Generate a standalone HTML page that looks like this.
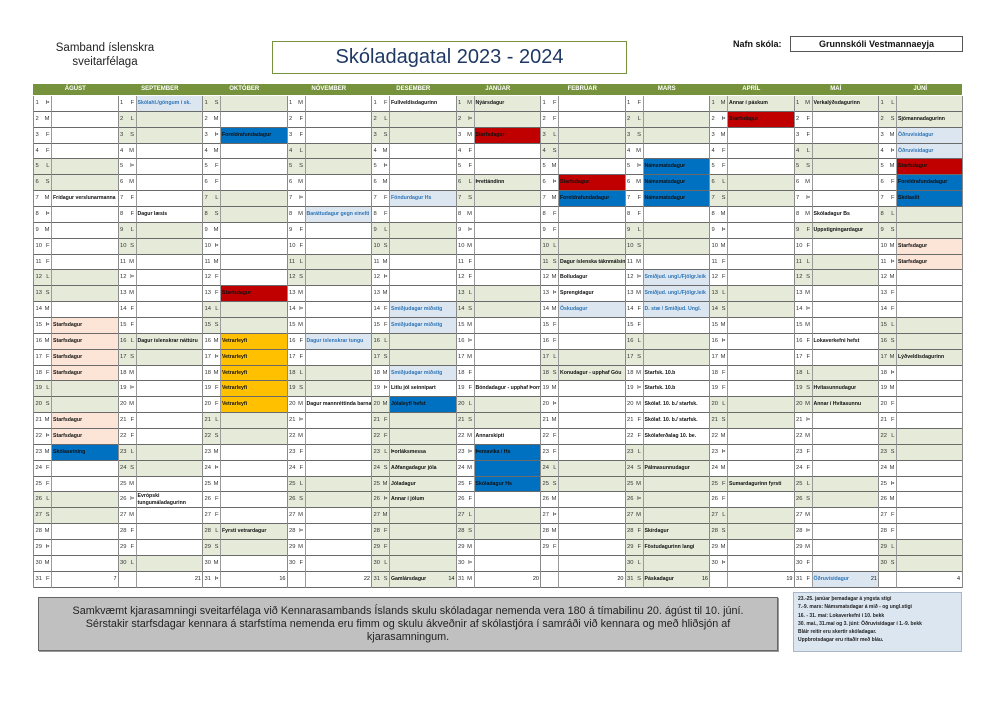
<!DOCTYPE html>
<html><head><meta charset="utf-8">
<style>
body{margin:0;width:992px;height:702px;background:#fff;position:relative;overflow:hidden;font-family:"Liberation Sans",sans-serif}
.a{position:absolute}
.hdr{position:absolute;left:33px;top:84px;width:929px;height:11px;background:#76923c}
.hdr span{position:absolute;top:0;width:84.5px;text-align:center;color:#fff;font:bold 6px/11px "Liberation Sans",sans-serif}
.m{position:absolute;top:96px;width:84.5px;display:grid;grid-template-columns:18px 66.5px;grid-auto-rows:15.87px;border-left:1.5px solid #8a8a8a;box-sizing:border-box}
.m p{margin:0;border-bottom:1px solid #6a6a6a;font-family:"Liberation Sans",sans-serif;line-height:15px;position:relative;overflow:hidden;white-space:nowrap;box-sizing:border-box}
.m p:nth-child(odd){padding-left:1.5px;border-right:1px solid #9a9a9a;color:#333;font-size:5.8px}
.m p:nth-child(even){padding-left:1px;font-weight:bold;font-size:5.2px;color:#111}
.m u{text-decoration:none;position:absolute;right:1.5px;top:0}
.m i{font-style:normal;font-weight:normal;position:absolute;right:2px;top:0;font-size:5.5px}
.m .g{background:#e5ead9}
.m .b{background:#0070c0}
.m .r{background:#c00000}
.m .o{background:#ffc000}
.m .l{background:#dce6f1;color:#2e75b6!important}
.m .k{background:#fce4d6}
</style></head><body>
<div class="a" style="left:40px;top:41px;width:130px;text-align:center;font-size:11.5px;line-height:14px;color:#222">Samband íslenskra<br>sveitarfélaga</div>
<div class="a" style="left:272px;top:41px;width:353px;height:31px;border:1.5px solid #76923c;text-align:center;font-size:20px;line-height:31px;color:#1f3864">Skóladagatal 2023 - 2024</div>
<div class="a" style="left:733px;top:39px;font-size:9px;font-weight:bold;color:#111">Nafn skóla:</div>
<div class="a" style="left:790px;top:36px;width:171px;height:14px;border:1px solid #555;text-align:center;font-size:9px;line-height:14px;font-weight:bold;color:#111">Grunnskóli Vestmannaeyja</div>
<div class="hdr">
<span style="left:0">ÁGÚST</span><span style="left:84.5px">SEPTEMBER</span><span style="left:169px">OKTÓBER</span><span style="left:253.5px">NÓVEMBER</span><span style="left:338px">DESEMBER</span><span style="left:422.5px">JANÚAR</span><span style="left:507px">FEBRÚAR</span><span style="left:591.5px">MARS</span><span style="left:676px">APRÍL</span><span style="left:760.5px">MAÍ</span><span style="left:845px">JÚNÍ</span>
</div>

<!-- AUG -->
<div class="m" style="left:33px">
<p>1<u>Þ</u></p><p></p>
<p>2<u>M</u></p><p></p>
<p>3<u>F</u></p><p></p>
<p>4<u>F</u></p><p></p>
<p class=g>5<u>L</u></p><p class=g></p>
<p class=g>6<u>S</u></p><p class=g></p>
<p>7<u>M</u></p><p>Frídagur verslunarmanna</p>
<p>8<u>Þ</u></p><p></p>
<p>9<u>M</u></p><p></p>
<p>10<u>F</u></p><p></p>
<p>11<u>F</u></p><p></p>
<p class=g>12<u>L</u></p><p class=g></p>
<p class=g>13<u>S</u></p><p class=g></p>
<p>14<u>M</u></p><p></p>
<p>15<u>Þ</u></p><p class=k>Starfsdagur</p>
<p>16<u>M</u></p><p class=k>Starfsdagur</p>
<p>17<u>F</u></p><p class=k>Starfsdagur</p>
<p>18<u>F</u></p><p class=k>Starfsdagur</p>
<p class=g>19<u>L</u></p><p class=g></p>
<p class=g>20<u>S</u></p><p class=g></p>
<p>21<u>M</u></p><p class=k>Starfsdagur</p>
<p>22<u>Þ</u></p><p class=k>Starfsdagur</p>
<p>23<u>M</u></p><p class=b>Skólasetning</p>
<p>24<u>F</u></p><p></p>
<p>25<u>F</u></p><p></p>
<p class=g>26<u>L</u></p><p class=g></p>
<p class=g>27<u>S</u></p><p class=g></p>
<p>28<u>M</u></p><p></p>
<p>29<u>Þ</u></p><p></p>
<p>30<u>M</u></p><p></p>
<p>31<u>F</u></p><p><i>7</i></p>
</div>

<!-- SEP -->
<div class="m" style="left:117.5px">
<p>1<u>F</u></p><p class=l>Skólahl./göngum í sk.</p>
<p class=g>2<u>L</u></p><p class=g></p>
<p class=g>3<u>S</u></p><p class=g></p>
<p>4<u>M</u></p><p></p>
<p>5<u>Þ</u></p><p></p>
<p>6<u>M</u></p><p></p>
<p>7<u>F</u></p><p></p>
<p>8<u>F</u></p><p>Dagur læsis</p>
<p class=g>9<u>L</u></p><p class=g></p>
<p class=g>10<u>S</u></p><p class=g></p>
<p>11<u>M</u></p><p></p>
<p>12<u>Þ</u></p><p></p>
<p>13<u>M</u></p><p></p>
<p>14<u>F</u></p><p></p>
<p>15<u>F</u></p><p></p>
<p class=g>16<u>L</u></p><p class=g>Dagur íslenskrar náttúru</p>
<p class=g>17<u>S</u></p><p class=g></p>
<p>18<u>M</u></p><p></p>
<p>19<u>Þ</u></p><p></p>
<p>20<u>M</u></p><p></p>
<p>21<u>F</u></p><p></p>
<p>22<u>F</u></p><p></p>
<p class=g>23<u>L</u></p><p class=g></p>
<p class=g>24<u>S</u></p><p class=g></p>
<p>25<u>M</u></p><p></p>
<p>26<u>Þ</u></p><p style="line-height:6.5px;padding-top:1px">Evrópski<br>tungumáladagurinn</p>
<p>27<u>M</u></p><p></p>
<p>28<u>F</u></p><p></p>
<p>29<u>F</u></p><p></p>
<p class=g>30<u>L</u></p><p class=g></p>
<p></p><p><i>21</i></p>
</div>

<!-- OCT -->
<div class="m" style="left:202px">
<p class=g>1<u>S</u></p><p class=g></p>
<p>2<u>M</u></p><p></p>
<p>3<u>Þ</u></p><p class=b>Foreldrafundadagur</p>
<p>4<u>M</u></p><p></p>
<p>5<u>F</u></p><p></p>
<p>6<u>F</u></p><p></p>
<p class=g>7<u>L</u></p><p class=g></p>
<p class=g>8<u>S</u></p><p class=g></p>
<p>9<u>M</u></p><p></p>
<p>10<u>Þ</u></p><p></p>
<p>11<u>M</u></p><p></p>
<p>12<u>F</u></p><p></p>
<p>13<u>F</u></p><p class=r>Starfsdagur</p>
<p class=g>14<u>L</u></p><p class=g></p>
<p class=g>15<u>S</u></p><p class=g></p>
<p>16<u>M</u></p><p class=o>Vetrarleyfi</p>
<p>17<u>Þ</u></p><p class=o>Vetrarleyfi</p>
<p>18<u>M</u></p><p class=o>Vetrarleyfi</p>
<p>19<u>F</u></p><p class=o>Vetrarleyfi</p>
<p>20<u>F</u></p><p class=o>Vetrarleyfi</p>
<p class=g>21<u>L</u></p><p class=g></p>
<p class=g>22<u>S</u></p><p class=g></p>
<p>23<u>M</u></p><p></p>
<p>24<u>Þ</u></p><p></p>
<p>25<u>M</u></p><p></p>
<p>26<u>F</u></p><p></p>
<p>27<u>F</u></p><p></p>
<p class=g>28<u>L</u></p><p class=g>Fyrsti vetrardagur</p>
<p class=g>29<u>S</u></p><p class=g></p>
<p>30<u>M</u></p><p></p>
<p>31<u>Þ</u></p><p><i>16</i></p>
</div>

<!-- NOV -->
<div class="m" style="left:286.5px">
<p>1<u>M</u></p><p></p>
<p>2<u>F</u></p><p></p>
<p>3<u>F</u></p><p></p>
<p class=g>4<u>L</u></p><p class=g></p>
<p class=g>5<u>S</u></p><p class=g></p>
<p>6<u>M</u></p><p></p>
<p>7<u>Þ</u></p><p></p>
<p>8<u>M</u></p><p class=l>Baráttudagur gegn einelti</p>
<p>9<u>F</u></p><p></p>
<p>10<u>F</u></p><p></p>
<p class=g>11<u>L</u></p><p class=g></p>
<p class=g>12<u>S</u></p><p class=g></p>
<p>13<u>M</u></p><p></p>
<p>14<u>Þ</u></p><p></p>
<p>15<u>M</u></p><p></p>
<p>16<u>F</u></p><p class=l>Dagur íslenskrar tungu</p>
<p>17<u>F</u></p><p></p>
<p class=g>18<u>L</u></p><p class=g></p>
<p class=g>19<u>S</u></p><p class=g></p>
<p>20<u>M</u></p><p>Dagur mannréttinda barna</p>
<p>21<u>Þ</u></p><p></p>
<p>22<u>M</u></p><p></p>
<p>23<u>F</u></p><p></p>
<p>24<u>F</u></p><p></p>
<p class=g>25<u>L</u></p><p class=g></p>
<p class=g>26<u>S</u></p><p class=g></p>
<p>27<u>M</u></p><p></p>
<p>28<u>Þ</u></p><p></p>
<p>29<u>M</u></p><p></p>
<p>30<u>F</u></p><p></p>
<p></p><p><i>22</i></p>
</div>

<!-- DEC -->
<div class="m" style="left:371px">
<p>1<u>F</u></p><p>Fullveldisdagurinn</p>
<p class=g>2<u>L</u></p><p class=g></p>
<p class=g>3<u>S</u></p><p class=g></p>
<p>4<u>M</u></p><p></p>
<p>5<u>Þ</u></p><p></p>
<p>6<u>M</u></p><p></p>
<p>7<u>F</u></p><p class=l>Föndurdagur Hs</p>
<p>8<u>F</u></p><p></p>
<p class=g>9<u>L</u></p><p class=g></p>
<p class=g>10<u>S</u></p><p class=g></p>
<p>11<u>M</u></p><p></p>
<p>12<u>Þ</u></p><p></p>
<p>13<u>M</u></p><p></p>
<p>14<u>F</u></p><p class=l>Smiðjudagar miðstig</p>
<p>15<u>F</u></p><p class=l>Smiðjudagar miðstig</p>
<p class=g>16<u>L</u></p><p class=g></p>
<p class=g>17<u>S</u></p><p class=g></p>
<p>18<u>M</u></p><p class=l>Smiðjudagar miðstig</p>
<p>19<u>Þ</u></p><p>Litlu jól seinnipart</p>
<p class=g>20<u>M</u></p><p class=b>Jólaleyfi hefst</p>
<p class=g>21<u>F</u></p><p class=g></p>
<p class=g>22<u>F</u></p><p class=g></p>
<p class=g>23<u>L</u></p><p class=g>Þorláksmessa</p>
<p class=g>24<u>S</u></p><p class=g>Aðfangadagur jóla</p>
<p class=g>25<u>M</u></p><p class=g>Jóladagur</p>
<p class=g>26<u>Þ</u></p><p class=g>Annar í jólum</p>
<p class=g>27<u>M</u></p><p class=g></p>
<p class=g>28<u>F</u></p><p class=g></p>
<p class=g>29<u>F</u></p><p class=g></p>
<p class=g>30<u>L</u></p><p class=g></p>
<p class=g>31<u>S</u></p><p class=g>Gamlársdagur<i>14</i></p>
</div>

<!-- JAN -->
<div class="m" style="left:455.5px">
<p class=g>1<u>M</u></p><p class=g>Nýársdagur</p>
<p class=g>2<u>Þ</u></p><p class=g></p>
<p>3<u>M</u></p><p class=r>Starfsdagur</p>
<p>4<u>F</u></p><p></p>
<p>5<u>F</u></p><p></p>
<p class=g>6<u>L</u></p><p class=g>Þrettándinn</p>
<p class=g>7<u>S</u></p><p class=g></p>
<p>8<u>M</u></p><p></p>
<p>9<u>Þ</u></p><p></p>
<p>10<u>M</u></p><p></p>
<p>11<u>F</u></p><p></p>
<p>12<u>F</u></p><p></p>
<p class=g>13<u>L</u></p><p class=g></p>
<p class=g>14<u>S</u></p><p class=g></p>
<p>15<u>M</u></p><p></p>
<p>16<u>Þ</u></p><p></p>
<p>17<u>M</u></p><p></p>
<p>18<u>F</u></p><p></p>
<p>19<u>F</u></p><p>Bóndadagur - upphaf Þorra</p>
<p class=g>20<u>L</u></p><p class=g></p>
<p class=g>21<u>S</u></p><p class=g></p>
<p>22<u>M</u></p><p>Annarskipti</p>
<p>23<u>Þ</u></p><p class=b>Þemavika í Hs</p>
<p>24<u>M</u></p><p class=b></p>
<p>25<u>F</u></p><p class=b>Skóladagur Hs</p>
<p>26<u>F</u></p><p></p>
<p class=g>27<u>L</u></p><p class=g></p>
<p class=g>28<u>S</u></p><p class=g></p>
<p>29<u>M</u></p><p></p>
<p>30<u>Þ</u></p><p></p>
<p>31<u>M</u></p><p><i>20</i></p>
</div>

<!-- FEB -->
<div class="m" style="left:540px">
<p>1<u>F</u></p><p></p>
<p>2<u>F</u></p><p></p>
<p class=g>3<u>L</u></p><p class=g></p>
<p class=g>4<u>S</u></p><p class=g></p>
<p>5<u>M</u></p><p></p>
<p>6<u>Þ</u></p><p class=r>Starfsdagur</p>
<p>7<u>M</u></p><p class=b>Foreldrafundadagur</p>
<p>8<u>F</u></p><p></p>
<p>9<u>F</u></p><p></p>
<p class=g>10<u>L</u></p><p class=g></p>
<p class=g>11<u>S</u></p><p class=g>Dagur íslenska táknmálsins</p>
<p>12<u>M</u></p><p>Bolludagur</p>
<p>13<u>Þ</u></p><p>Sprengidagur</p>
<p>14<u>M</u></p><p class=l>Öskudagur</p>
<p>15<u>F</u></p><p></p>
<p>16<u>F</u></p><p></p>
<p class=g>17<u>L</u></p><p class=g></p>
<p class=g>18<u>S</u></p><p class=g>Konudagur - upphaf Góu</p>
<p>19<u>M</u></p><p></p>
<p>20<u>Þ</u></p><p></p>
<p>21<u>M</u></p><p></p>
<p>22<u>F</u></p><p></p>
<p>23<u>F</u></p><p></p>
<p class=g>24<u>L</u></p><p class=g></p>
<p class=g>25<u>S</u></p><p class=g></p>
<p>26<u>M</u></p><p></p>
<p>27<u>Þ</u></p><p></p>
<p>28<u>M</u></p><p></p>
<p>29<u>F</u></p><p></p>
<p></p><p></p>
<p></p><p><i>20</i></p>
</div>

<!-- MAR -->
<div class="m" style="left:624.5px">
<p>1<u>F</u></p><p></p>
<p class=g>2<u>L</u></p><p class=g></p>
<p class=g>3<u>S</u></p><p class=g></p>
<p>4<u>M</u></p><p></p>
<p>5<u>Þ</u></p><p class=b>Námsmatsdagur</p>
<p>6<u>M</u></p><p class=b>Námsmatsdagur</p>
<p>7<u>F</u></p><p class=b>Námsmatsdagur</p>
<p>8<u>F</u></p><p></p>
<p class=g>9<u>L</u></p><p class=g></p>
<p class=g>10<u>S</u></p><p class=g></p>
<p>11<u>M</u></p><p></p>
<p>12<u>Þ</u></p><p class=l>Smiðjud. ungl./Fjölgr.leik</p>
<p>13<u>M</u></p><p class=l>Smiðjud. ungl./Fjölgr.leik</p>
<p>14<u>F</u></p><p class=l>D. stæ / Smiðjud. Ungl.</p>
<p>15<u>F</u></p><p></p>
<p class=g>16<u>L</u></p><p class=g></p>
<p class=g>17<u>S</u></p><p class=g></p>
<p>18<u>M</u></p><p>Starfsk. 10.b</p>
<p>19<u>Þ</u></p><p>Starfsk. 10.b</p>
<p>20<u>M</u></p><p>Skólaf. 10. b./ starfsk.</p>
<p>21<u>F</u></p><p>Skólaf. 10. b./ starfsk.</p>
<p>22<u>F</u></p><p>Skólaferðalag 10. be.</p>
<p class=g>23<u>L</u></p><p class=g></p>
<p class=g>24<u>S</u></p><p class=g>Pálmasunnudagur</p>
<p class=g>25<u>M</u></p><p class=g></p>
<p class=g>26<u>Þ</u></p><p class=g></p>
<p class=g>27<u>M</u></p><p class=g></p>
<p class=g>28<u>F</u></p><p class=g>Skírdagur</p>
<p class=g>29<u>F</u></p><p class=g>Föstudagurinn langi</p>
<p class=g>30<u>L</u></p><p class=g></p>
<p class=g>31<u>S</u></p><p class=g>Páskadagur<i>16</i></p>
</div>

<!-- APR -->
<div class="m" style="left:709px">
<p class=g>1<u>M</u></p><p class=g>Annar í páskum</p>
<p>2<u>Þ</u></p><p class=r>Starfsdagur</p>
<p>3<u>M</u></p><p></p>
<p>4<u>F</u></p><p></p>
<p>5<u>F</u></p><p></p>
<p class=g>6<u>L</u></p><p class=g></p>
<p class=g>7<u>S</u></p><p class=g></p>
<p>8<u>M</u></p><p></p>
<p>9<u>Þ</u></p><p></p>
<p>10<u>M</u></p><p></p>
<p>11<u>F</u></p><p></p>
<p>12<u>F</u></p><p></p>
<p class=g>13<u>L</u></p><p class=g></p>
<p class=g>14<u>S</u></p><p class=g></p>
<p>15<u>M</u></p><p></p>
<p>16<u>Þ</u></p><p></p>
<p>17<u>M</u></p><p></p>
<p>18<u>F</u></p><p></p>
<p>19<u>F</u></p><p></p>
<p class=g>20<u>L</u></p><p class=g></p>
<p class=g>21<u>S</u></p><p class=g></p>
<p>22<u>M</u></p><p></p>
<p>23<u>Þ</u></p><p></p>
<p>24<u>M</u></p><p></p>
<p class=g>25<u>F</u></p><p class=g>Sumardagurinn fyrsti</p>
<p>26<u>F</u></p><p></p>
<p class=g>27<u>L</u></p><p class=g></p>
<p class=g>28<u>S</u></p><p class=g></p>
<p>29<u>M</u></p><p></p>
<p>30<u>Þ</u></p><p></p>
<p></p><p><i>19</i></p>
</div>

<!-- MAY -->
<div class="m" style="left:793.5px">
<p class=g>1<u>M</u></p><p class=g>Verkalýðsdagurinn</p>
<p>2<u>F</u></p><p></p>
<p>3<u>F</u></p><p></p>
<p class=g>4<u>L</u></p><p class=g></p>
<p class=g>5<u>S</u></p><p class=g></p>
<p>6<u>M</u></p><p></p>
<p>7<u>Þ</u></p><p></p>
<p>8<u>M</u></p><p>Skóladagur Bs</p>
<p class=g>9<u>F</u></p><p class=g>Uppstigningardagur</p>
<p>10<u>F</u></p><p></p>
<p class=g>11<u>L</u></p><p class=g></p>
<p class=g>12<u>S</u></p><p class=g></p>
<p>13<u>M</u></p><p></p>
<p>14<u>Þ</u></p><p></p>
<p>15<u>M</u></p><p></p>
<p>16<u>F</u></p><p>Lokaverkefni hefst</p>
<p>17<u>F</u></p><p></p>
<p class=g>18<u>L</u></p><p class=g></p>
<p class=g>19<u>S</u></p><p class=g>Hvítasunnudagur</p>
<p class=g>20<u>M</u></p><p class=g>Annar í Hvítasunnu</p>
<p>21<u>Þ</u></p><p></p>
<p>22<u>M</u></p><p></p>
<p>23<u>F</u></p><p></p>
<p>24<u>F</u></p><p></p>
<p class=g>25<u>L</u></p><p class=g></p>
<p class=g>26<u>S</u></p><p class=g></p>
<p>27<u>M</u></p><p></p>
<p>28<u>Þ</u></p><p></p>
<p>29<u>M</u></p><p></p>
<p>30<u>F</u></p><p></p>
<p>31<u>F</u></p><p class=l>Öðruvísidagur<i style="color:#111">21</i></p>
</div>

<!-- JUN -->
<div class="m" style="left:878px;border-right:1.5px solid #8a8a8a;width:84.5px;grid-template-columns:18px 65px">
<p class=g>1<u>L</u></p><p class=g></p>
<p class=g>2<u>S</u></p><p class=g>Sjómannadagurinn</p>
<p>3<u>M</u></p><p class=l>Öðruvísidagur</p>
<p>4<u>Þ</u></p><p class=l>Öðruvísidagur</p>
<p>5<u>M</u></p><p class=r>Starfsdagur</p>
<p>6<u>F</u></p><p class=b>Foreldrafundadagur</p>
<p>7<u>F</u></p><p class=b>Skólaslit</p>
<p class=g>8<u>L</u></p><p class=g></p>
<p class=g>9<u>S</u></p><p class=g></p>
<p>10<u>M</u></p><p class=k>Starfsdagur</p>
<p>11<u>Þ</u></p><p class=k>Starfsdagur</p>
<p>12<u>M</u></p><p></p>
<p>13<u>F</u></p><p></p>
<p>14<u>F</u></p><p></p>
<p class=g>15<u>L</u></p><p class=g></p>
<p class=g>16<u>S</u></p><p class=g></p>
<p class=g>17<u>M</u></p><p class=g>Lýðveldisdagurinn</p>
<p>18<u>Þ</u></p><p></p>
<p>19<u>M</u></p><p></p>
<p>20<u>F</u></p><p></p>
<p>21<u>F</u></p><p></p>
<p class=g>22<u>L</u></p><p class=g></p>
<p class=g>23<u>S</u></p><p class=g></p>
<p>24<u>M</u></p><p></p>
<p>25<u>Þ</u></p><p></p>
<p>26<u>M</u></p><p></p>
<p>27<u>F</u></p><p></p>
<p>28<u>F</u></p><p></p>
<p class=g>29<u>L</u></p><p class=g></p>
<p class=g>30<u>S</u></p><p class=g></p>
<p></p><p><i>4</i></p>
</div>

<div class="a" style="left:38px;top:597px;width:740px;height:54px;background:#c0c0c0;border:1px solid #666;box-shadow:1px 1px 0 #999;text-align:center;font-size:10.8px;line-height:13px;color:#222;padding-top:7px;box-sizing:border-box">Samkvæmt kjarasamningi sveitarfélaga við Kennarasambands Íslands skulu skóladagar nemenda vera 180 á tímabilinu 20. ágúst til 10. júní.<br>Sérstakir starfsdagar kennara á starfstíma nemenda eru fimm og skulu ákveðnir af skólastjóra í samráði við kennara og með hliðsjón af<br>kjarasamningum.</div>
<div class="a" style="left:793px;top:592px;width:169px;height:60px;background:#dce6f1;border:1px solid #a8b8c8;box-sizing:border-box;padding:2px 4px;font-size:5px;line-height:8.3px;color:#222;font-weight:bold;white-space:nowrap">23.-25. janúar þemadagar á yngsta stigi<br>7.-9. mars: Námsmatsdagar á mið - og ungl.stigi<br>16. - 31. maí: Lokaverkefni í 10. bekk<br>30. maí., 31.maí og 3. júní: Öðruvísidagar í 1.-9. bekk<br>Bláir reitir eru skertir skóladagar.<br>Uppbrotsdagar eru ritaðir með bláu.</div>
</body></html>
